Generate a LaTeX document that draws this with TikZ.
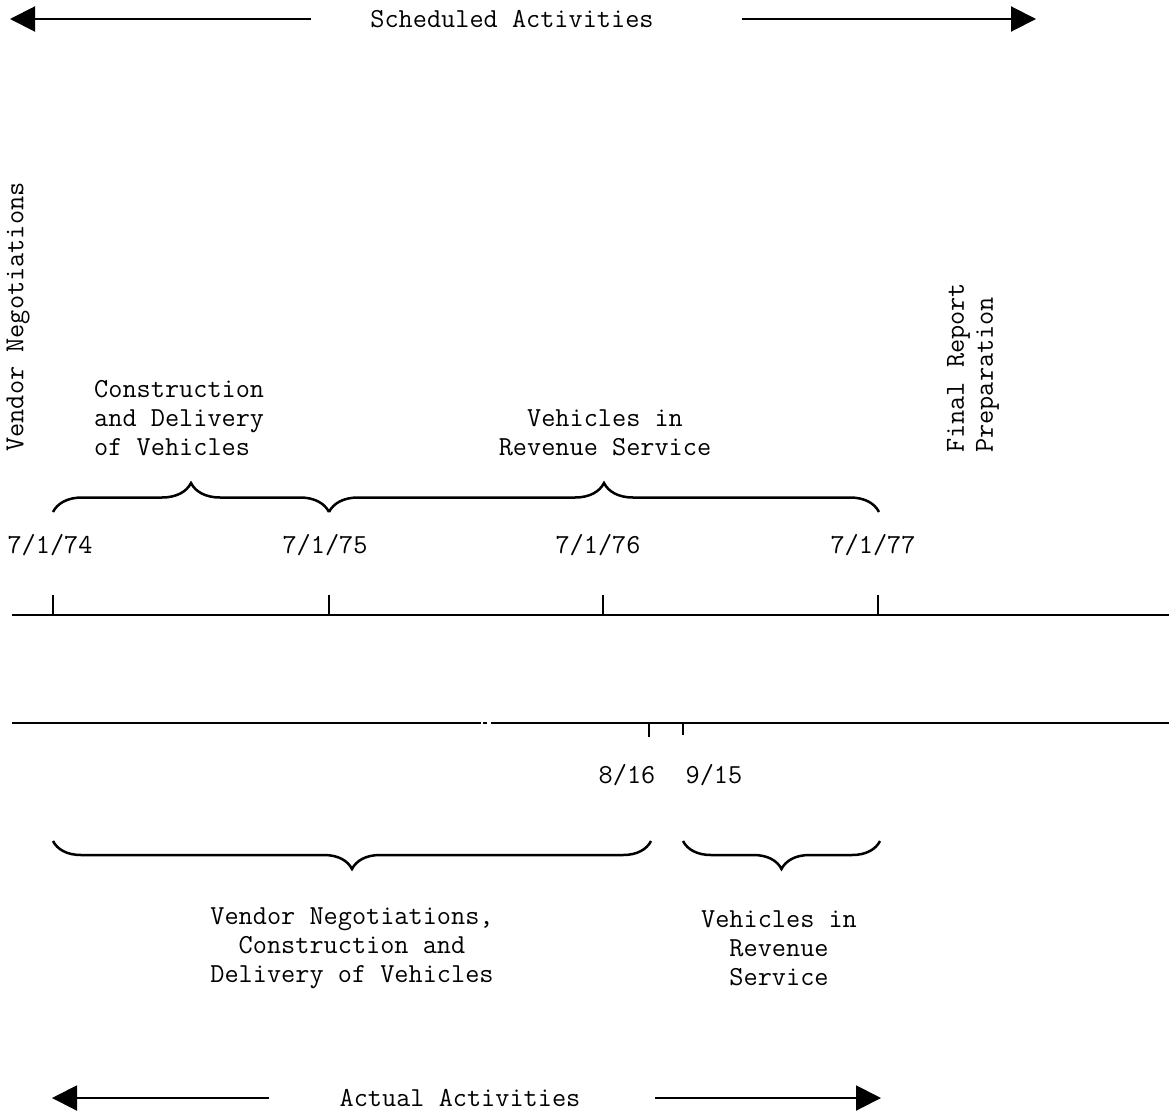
\documentclass[tikz,border=0pt]{standalone}
\usepackage{fontspec}
\usetikzlibrary{arrows.meta,decorations.pathreplacing}
\begin{document}
\begin{tikzpicture}[x=1pt,y=-1pt,
  txt/.style={font=\ttfamily\fontsize{27.5}{29}\selectfont, inner sep=0pt, align=center},
  axisline/.style={line width=1.5pt},
  bigarrow/.style={line width=2pt, -{Triangle[length=25pt,width=25pt]}},
  bracetop/.style={line width=2.5pt, decorate, decoration={brace, amplitude=29pt}},
  bracebot/.style={line width=2.5pt, decorate, decoration={brace, amplitude=28pt}},
  tickmark/.style={line width=1.5pt}]
\useasboundingbox (0,0) rectangle (1169,1111);

% header / footer
\node[txt] (sa) at (512,19) {Scheduled Activities};
\coordinate (saL) at (10,19);
\coordinate (saR) at (1036,19);
\draw[bigarrow] ([xshift=-59pt]sa.west) -- (saL);
\draw[bigarrow] ([xshift=88pt]sa.east) -- (saR);

\node[txt] (aa) at (460,1098) {Actual Activities};
\coordinate (aaL) at (52,1098);
\coordinate (aaR) at (881,1098);
\draw[bigarrow] ([xshift=-70pt]aa.west) -- (aaL);
\draw[bigarrow] ([xshift=74pt]aa.east) -- (aaR);

% scheduled labels
\node[txt, rotate=90] (vn) at (18,317) {Vendor Negotiations};
\node[txt, align=left, anchor=west] (cd) at (94,418) {Construction\\and Delivery\\of Vehicles};
\node[txt] (vr) at (605,433) {Vehicles in\\Revenue Service};
\node[txt, rotate=90, align=left, anchor=west] (fr) at (973,453) {Final Report\\Preparation};

% upper time line
\coordinate (uL) at (12,615);
\coordinate (uR) at (1169,615);
\coordinate (t74) at (53,615);
\coordinate (t75) at (329,615);
\coordinate (t76) at (603,615);
\coordinate (t77) at (878,615);
\draw[axisline] (uL) -- (uR);
\foreach \t in {t74,t75,t76,t77} \draw[tickmark] (\t) -- ++(0,-20);

\node[txt] (d74) at (50,545) {7/1/74};
\node[txt] (d75) at (325,545) {7/1/75};
\node[txt] (d76) at (598,545) {7/1/76};
\node[txt] (d77) at (873,545) {7/1/77};

% top braces
\coordinate (b1) at (53,512);
\coordinate (b2) at (329,512);
\coordinate (b3) at (879,512);
\draw[bracetop] (b1) -- (b2);
\draw[bracetop] (b2) -- (b3);

% lower time line
\coordinate (lL) at (12,723);
\coordinate (lA) at (481,723);
\coordinate (lB) at (483,723);
\coordinate (lC) at (487,723);
\coordinate (lD) at (491,723);
\coordinate (lR) at (1169,723);
\coordinate (t816) at (649,723);
\coordinate (t915) at (683,723);
\draw[axisline] (lL) -- (lA);
\draw[axisline] (lB) -- (lC);
\draw[axisline] (lD) -- (lR);
\draw[tickmark] (t816) -- ++(0,14);
\draw[tickmark] (t915) -- ++(0,12);

\node[txt] (d816) at (627,775) {8/16};
\node[txt] (d915) at (714,775) {9/15};

% lower braces
\coordinate (c1) at (53,841);
\coordinate (c2) at (651,841);
\coordinate (c3) at (683,841);
\coordinate (c4) at (880,841);
\draw[bracebot] (c2) -- (c1);
\draw[bracebot] (c4) -- (c3);

% actual labels
\node[txt] (vcd) at (352,948) {Vendor Negotiations,\\Construction and\\Delivery of Vehicles};
\node[txt] (vrs) at (779,948) {Vehicles in\\Revenue\\Service};
\end{tikzpicture}
\end{document}
